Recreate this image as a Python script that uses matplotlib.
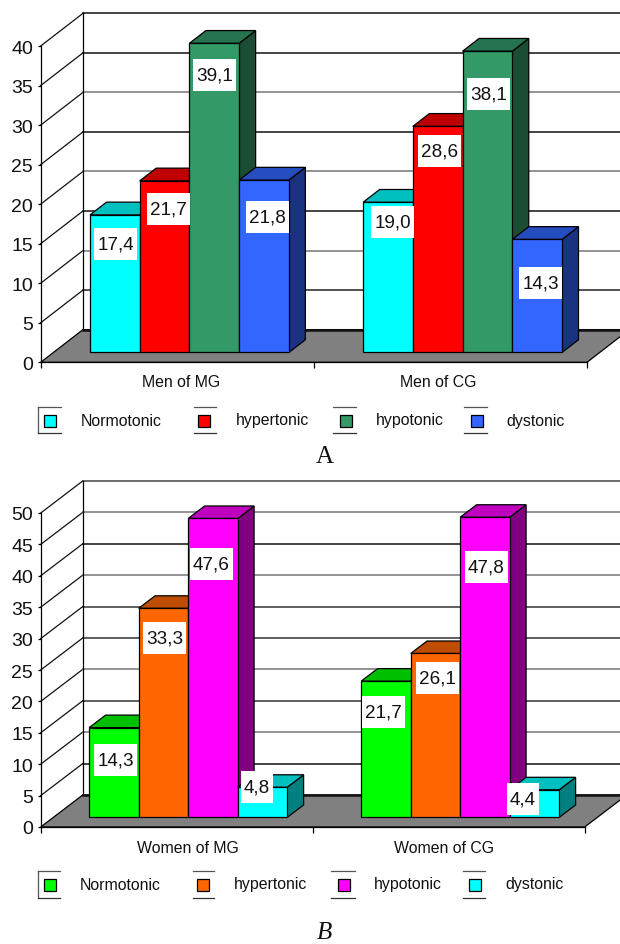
import matplotlib
matplotlib.use('Agg')
import matplotlib.pyplot as plt
from matplotlib.patches import Polygon, Rectangle

W, H = 620, 945

# data
men_groups = ['Men of MG', 'Men of CG']
women_groups = ['Women of MG', 'Women of CG']
series = ['Normotonic', 'hypertonic', 'hypotonic', 'dystonic']
men_vals = [[17.4, 19.0], [21.7, 28.6], [39.1, 38.1], [21.8, 14.3]]
women_vals = [[14.3, 21.7], [33.3, 26.1], [47.6, 47.8], [4.8, 4.4]]
men_text = [['17,4', '19,0'], ['21,7', '28,6'], ['39,1', '38,1'], ['21,8', '14,3']]
women_text = [['14,3', '21,7'], ['33,3', '26,1'], ['47,6', '47,8'], ['4,8', '4,4']]
men_ticks = [0, 5, 10, 15, 20, 25, 30, 35, 40]
women_ticks = [0, 5, 10, 15, 20, 25, 30, 35, 40, 45, 50]

# face, top, side colours
men_cols = [('#00FFFF', '#00BFBF', '#008080'), ('#FF0000', '#BF0000', '#800000'),
            ('#339966', '#267350', '#1A4D33'), ('#3366FF', '#264DBF', '#1A3380')]
women_cols = [('#00FF00', '#00BF00', '#008000'), ('#FF6600', '#BF4D00', '#803300'),
              ('#FF00FF', '#BF00BF', '#800080'), ('#00FFFF', '#00BFBF', '#008080')]

# label box centres in pixels, [series][group]
men_lab = [[(115.5, 245), (392.7, 223)], [(168.5, 210), (439.5, 152)],
           [(214.5, 76), (488.5, 95)], [(267.5, 218), (540.5, 284)]]
women_lab = [[(115.5, 761), (383.3, 713)], [(164.5, 639), (437.5, 679)],
             [(211.5, 565), (486.5, 568)], [(257, 788), (523, 800)]]
men_grid = ['#111111', '#222222', '#777777', '#111111', '#777777', '#111111', '#777777', '#111111', '#111111']
women_grid = ['#111111', '#111111', '#777777', '#333333', '#777777', '#333333', '#333333', '#777777', '#111111', '#777777', '#444444']

plt.rcParams['font.family'] = ['Liberation Sans', 'DejaVu Sans']

fig = plt.figure(figsize=(W / 100, H / 100), dpi=100)


def fx(x):
    return x / W


def fy(y):
    return 1 - y / H


def ptext(x, y, s, **kw):
    kw.setdefault('color', '#111111')
    fig.text(fx(x), fy(y), s, **kw)


def chart(left, right, y0, ytop, vmax, ticks, back_dx, back_dy, vals, text, labs, cols, grid,
          groups, group_x, group_y, start, front, depth):
    ax = fig.add_axes([fx(left), fy(y0), (right - left) / W, (y0 - ytop) / H])
    ax.set_xlim(0, 2)
    ax.set_ylim(0, vmax)
    ax.patch.set_visible(False)
    for s in ['top', 'right']:
        ax.spines[s].set_visible(False)
    for s in ['left', 'bottom']:
        ax.spines[s].set_linewidth(0.9)
        ax.spines[s].set_color('black')
    ax.set_yticks(ticks)
    ax.set_xticks([0, 1, 2])
    ax.set_xticklabels([])
    ax.tick_params(axis='y', length=2.5, width=0.9, labelsize=14, pad=3, labelcolor='#111111')
    ax.tick_params(axis='x', length=4, width=0.9)

    ddx = back_dx / ((right - left) / 2)
    ddy = back_dy / ((y0 - ytop) / vmax)

    def poly(pts, fc, ec='black', lw=0.9, z=3):
        ax.add_patch(Polygon(pts, closed=True, facecolor=fc, edgecolor=ec, linewidth=lw,
                             clip_on=False, joinstyle='miter', zorder=z))

    def proj(x, v, d):
        return (x + d * ddx, v + d * ddy)

    # floor, then walls
    poly([proj(0, 0, 0), proj(2, 0, 0), proj(2, 0, 1), proj(0, 0, 1)], '#808080', z=1)
    ax.plot([ddx, 2 + ddx], [ddy, ddy], color='#111111', lw=1.8, clip_on=False, zorder=2)
    for v, c in zip(ticks[1:], grid[1:]):
        ax.plot([0, ddx], [v, v + ddy], color='#111111', lw=0.9, clip_on=False, zorder=1)
        ax.plot([ddx, 2 + ddx], [v + ddy, v + ddy], color=c, lw=1.1, clip_on=False, zorder=1)
    ax.plot([ddx, ddx], [ddy, ticks[-1] + ddy], color='black', lw=0.9, clip_on=False, zorder=1)

    # bars
    bw = 0.182
    for g in range(2):
        for i in range(4):
            v = vals[i][g]
            x0 = g + start + i * bw
            x1 = x0 + bw
            d0, d1 = front, front + depth
            poly([proj(x1, 0, d0), proj(x1, 0, d1), proj(x1, v, d1), proj(x1, v, d0)], cols[i][2])
            poly([proj(x0, v, d0), proj(x1, v, d0), proj(x1, v, d1), proj(x0, v, d1)], cols[i][1])
            poly([proj(x0, 0, d0), proj(x1, 0, d0), proj(x1, v, d0), proj(x0, v, d0)], cols[i][0])

    # value labels
    for i in range(4):
        for g in range(2):
            x, y = labs[i][g]
            w = 32 if len(text[i][g]) == 3 else 43
            fig.add_artist(Rectangle((fx(x - w / 2), fy(y + 16)), w / W, 32 / H, transform=fig.transFigure,
                                     facecolor='white', edgecolor='none', zorder=5))
            ptext(x, y, text[i][g], fontsize=13.6, ha='center', va='center', zorder=6)

    for name, x in zip(groups, group_x):
        ptext(x, group_y, name, fontsize=11.4, ha='center', va='center')


def legend(top, bottom, segs, swatches, sw_y, labels, cols):
    lc = '#555555'
    fig.add_artist(plt.Line2D([fx(segs[0][0])] * 2, [fy(top), fy(bottom)], color=lc, lw=0.9))
    for a, b in segs:
        fig.add_artist(plt.Line2D([fx(a), fx(b)], [fy(top)] * 2, color=lc, lw=0.9))
        fig.add_artist(plt.Line2D([fx(a), fx(b)], [fy(bottom)] * 2, color='#333333', lw=0.9))
    for x, c in zip(swatches, cols):
        fig.add_artist(Rectangle((fx(x), fy(sw_y + 12)), 12 / W, 12 / H, transform=fig.transFigure,
                                 facecolor=c[0], edgecolor='black', linewidth=0.9))
    for x, y, s in labels:
        ptext(x, y, s, fontsize=11.4, ha='left', va='center')


chart(40.7, 587, 363.3, 47, 40, men_ticks, 42.3, 32.7, men_vals, men_text, men_lab, men_cols, men_grid,
      men_groups, [181.5, 438], 383, 0.134, 0.3, 0.39)
chart(40.7, 584.7, 828, 514, 50, women_ticks, 42, 32, women_vals, women_text, women_lab, women_cols, women_grid,
      women_groups, [187.7, 444.3], 849, 0.132, 0.3, 0.39)

legend(407.7, 434.3, [(38, 61), (194, 216), (333, 356), (464, 487)], [43.5, 198, 339.7, 471], 416,
       [(81, 422, series[0]), (235.5, 420.5, series[1]), (375.7, 421, series[2]), (506.7, 421.5, series[3])], men_cols)
legend(872.3, 899, [(37.7, 60), (193, 214), (331, 354.7), (463, 485)], [43.5, 197, 338, 469], 880.3,
       [(79.3, 886, series[0]), (234, 884.3, series[1]), (374.3, 885, series[2]), (505, 885, series[3])], women_cols)

ptext(324.5, 457, 'A', family='Liberation Serif', fontsize=18, ha='center', va='center')
ptext(324.5, 933.5, 'B', family='Liberation Serif', style='italic', fontsize=18, ha='center', va='center')

fig.savefig('out.png', dpi=100)
